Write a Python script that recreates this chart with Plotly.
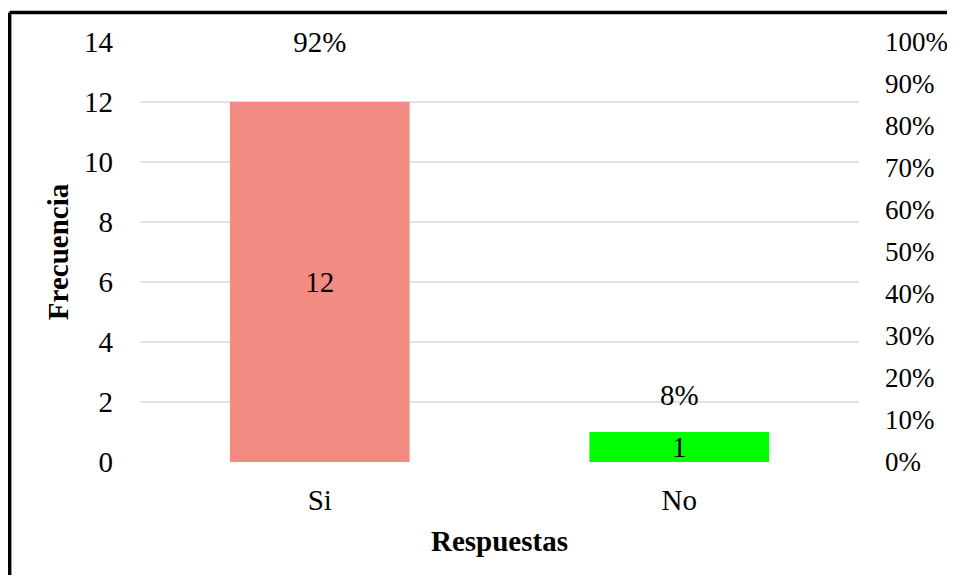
import plotly.graph_objects as go

categorias = ['Si', 'No']
frecuencia = [12, 1]
porcentaje = [0.92, 0.08]
etiquetas_pct = ['92%', '8%']
colores = ['#F28B82', '#00FF00']

fuente = 'Liberation Serif, Times New Roman, serif'
tam = 29

fig = go.Figure()
fig.add_trace(go.Bar(
    x=categorias,
    y=frecuencia,
    marker=dict(color=colores, line=dict(width=0)),
    text=[str(v) for v in frecuencia],
    textposition='inside',
    insidetextanchor='middle',
    textangle=0,
    constraintext='none',
    insidetextfont=dict(family=fuente, size=tam, color='black'),
    width=0.5,
    showlegend=False,
))
fig.add_trace(go.Scatter(
    x=categorias,
    y=porcentaje,
    yaxis='y2',
    mode='markers+text',
    marker=dict(size=24, opacity=0),
    text=etiquetas_pct,
    textposition='top center',
    textfont=dict(family=fuente, size=tam, color='black'),
    cliponaxis=False,
    showlegend=False,
    hoverinfo='skip',
))

# la pagina tiene margen de 8px por lado
fig.update_layout(
    width=939,
    height=567,
    margin=dict(l=131.5, r=87.5, t=34, b=113),
    paper_bgcolor='white',
    plot_bgcolor='white',
    font=dict(family=fuente, size=tam, color='black'),
    xaxis=dict(
        automargin=False,
        showline=False,
        ticks='',
        ticklabelstandoff=18,
        tickfont=dict(size=tam),
        title=dict(text='<b>Respuestas</b>', font=dict(size=tam), standoff=15),
    ),
    yaxis=dict(
        automargin=False,
        range=[0, 14],
        dtick=2,
        showgrid=True,
        gridcolor='#DFE2E7',
        gridwidth=1.5,
        zeroline=False,
        ticks='',
        ticklabelstandoff=26,
        tickfont=dict(size=tam),
        title=dict(text='<b>Frecuencia</b>', font=dict(size=tam), standoff=6),
    ),
    yaxis2=dict(
        automargin=False,
        range=[0, 1],
        dtick=0.1,
        tickformat='.0%',
        overlaying='y',
        side='right',
        showgrid=False,
        zeroline=False,
        ticks='',
        ticklabelstandoff=25,
        tickfont=dict(size=27),
    ),
    shapes=[
        dict(type='line', xref='paper', yref='paper',
             x0=-0.1813, x1=-0.1813, y0=1.0702, y1=-0.3,
             line=dict(color='black', width=3.5)),
        dict(type='line', xref='paper', yref='paper',
             x0=-0.1813, x1=1.2, y0=1.0702, y1=1.0702,
             line=dict(color='black', width=3.5)),
    ],
)

fig.write_html("out.html")
